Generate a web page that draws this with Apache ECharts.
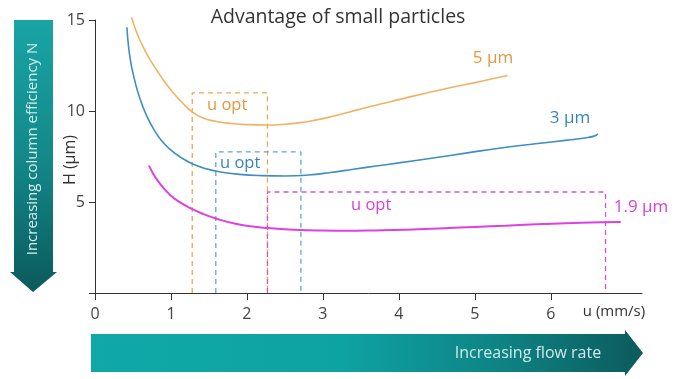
<!DOCTYPE html>
<html>
<head>
<meta charset="utf-8">
<script src="https://cdn.jsdelivr.net/npm/echarts@6/dist/echarts.min.js"></script>
<style>html,body{margin:0;padding:0;background:#fff}#c{width:679px;height:379px}</style>
</head>
<body>
<div id="c"></div>
<script>
const xTicks = [0, 1, 2, 3, 4, 5, 6];
const seriesNames = ['5 µm', '3 µm', '1.9 µm'];
const h5 = [[0.48,15.15],[0.55,14.3],[0.63,13.55],[0.72,12.85],[0.82,12.2],[0.92,11.58],[1.03,11.0],[1.15,10.45],[1.28,9.95],[1.42,9.62],[1.6,9.42],[1.8,9.31],[2.0,9.25],[2.27,9.23],[2.5,9.27],[2.7,9.36],[2.9,9.5],[3.1,9.68],[3.35,9.95],[3.6,10.22],[3.9,10.52],[4.2,10.83],[4.45,11.07],[4.7,11.3],[5.0,11.56],[5.2,11.74],[5.43,11.95]];
const h3 = [[0.42,14.6],[0.44,13.6],[0.47,12.7],[0.51,11.9],[0.56,11.1],[0.62,10.35],[0.69,9.65],[0.78,8.95],[0.88,8.35],[1.0,7.85],[1.13,7.45],[1.28,7.1],[1.45,6.84],[1.65,6.65],[1.9,6.52],[2.2,6.45],[2.5,6.43],[2.8,6.48],[3.1,6.62],[3.4,6.8],[3.7,6.98],[4.0,7.15],[4.45,7.42],[4.9,7.7],[5.34,7.97],[5.8,8.2],[6.22,8.4],[6.45,8.52],[6.57,8.62],[6.62,8.74]];
const h19 = [[0.71,7.0],[0.76,6.6],[0.82,6.2],[0.9,5.78],[1.0,5.35],[1.12,4.98],[1.25,4.67],[1.4,4.38],[1.6,4.08],[1.85,3.8],[2.1,3.64],[2.4,3.53],[2.7,3.46],[3.0,3.43],[3.3,3.42],[3.7,3.44],[4.1,3.48],[4.6,3.56],[5.0,3.63],[5.4,3.7],[5.9,3.79],[6.4,3.86],[6.92,3.9]];
// u opt boxes: [left, right, top]
const box5 = [1.28, 2.27, 11.0];
const box3 = [1.59, 2.71, 7.75];
const box19 = [2.27, 6.72, 5.55];

const cOr = '#f2b263', cBl = '#3f8dc2', cPk = '#e040e0';
const tOr = '#e8963e', tBl = '#3585ba', tPk = '#d83ed8';
const FF = '"Open Sans", "DejaVu Sans", sans-serif';

function boxData(b) { return [[b[0], 0], [b[0], b[2]], [b[1], b[2]], [b[1], 0]]; }
function boxSeries(b, color) {
  return { type: 'line', data: boxData(b), symbol: 'none', silent: true, clip: false,
    lineStyle: { color: color, width: 1.3, type: [5, 4] }, z: 1 };
}
function curve(name, d, color, w) {
  return { name: name, type: 'line', data: d, symbol: 'none', smooth: 0.5, clip: false,
    lineStyle: { color: color, width: w }, z: 3 };
}

const chart = echarts.init(document.getElementById('c'), null, { renderer: 'canvas' });
chart.setOption({
  animation: false,
  backgroundColor: '#fff',
  grid: { left: 95, top: 20, right: 37, bottom: 86, containLabel: false },
  xAxis: {
    type: 'value', min: 0, max: 7.2,
    axisLine: { lineStyle: { color: '#333', width: 1 } },
    axisTick: { show: true, length: 7, customValues: xTicks, lineStyle: { color: '#333' } },
    axisLabel: { customValues: xTicks, color: '#444', fontSize: 16, fontFamily: FF, margin: 13 },
    splitLine: { show: false }
  },
  yAxis: {
    type: 'value', min: 0, max: 15, interval: 5,
    axisLine: { show: true, lineStyle: { color: '#333', width: 1 } },
    axisTick: { show: true, length: 6, lineStyle: { color: '#333' } },
    axisLabel: { color: '#444', fontSize: 16, fontFamily: FF, margin: 10, formatter: v => v === 0 ? '' : v },
    splitLine: { show: false }
  },
  series: [
    boxSeries(box5, '#eaa656'),
    boxSeries(box3, '#5ea8d8'),
    boxSeries(box19, '#d653d6'),
    curve(seriesNames[0], h5, cOr, 1.6),
    curve(seriesNames[1], h3, cBl, 1.6),
    curve(seriesNames[2], h19, cPk, 2)
  ],
  graphic: [
    { type: 'polygon', shape: { points: [[14,20],[53,20],[53,272],[57,272],[33,292],[10,272],[14,272]] },
      style: { fill: new echarts.graphic.LinearGradient(0,0,0,1,[{offset:0,color:'#19a4a4'},{offset:0.5,color:'#13898a'},{offset:1,color:'#0b5a5c'}]) } },
    { type: 'text', x: 33, y: 149, rotation: Math.PI/2,
      style: { text: 'Increasing column efficiency N', fill: '#d4efee', font: '15px ' + FF, align: 'center', verticalAlign: 'middle' } },
    { type: 'polygon', shape: { points: [[91,334],[625,334],[625,330],[643,353],[625,376],[625,372],[91,372]] },
      style: { fill: new echarts.graphic.LinearGradient(0,0,1,0,[{offset:0,color:'#10a8a8'},{offset:0.45,color:'#0ea3a3'},{offset:0.75,color:'#0e8283'},{offset:1,color:'#0c5a5c'}]) } },
    { type: 'text', x: 528, y: 353,
      style: { text: 'Increasing flow rate', fill: '#cdebea', font: '16px ' + FF, align: 'center', verticalAlign: 'middle' } },
    { type: 'text', x: 338, y: 17,
      style: { text: 'Advantage of small particles', fill: '#333', font: '19.5px ' + FF, align: 'center', verticalAlign: 'middle' } },
    { type: 'text', x: 70, y: 160, rotation: Math.PI/2,
      style: { text: 'H (µm)', fill: '#333', font: '16px ' + FF, align: 'center', verticalAlign: 'middle' } },
    { type: 'text', x: 614, y: 312,
      style: { text: 'u (mm/s)', fill: '#333', font: '15px ' + FF, align: 'center', verticalAlign: 'middle' } },
    { type: 'text', x: 493, y: 58,
      style: { text: '5 µm', fill: tOr, font: '17px ' + FF, align: 'center', verticalAlign: 'middle' } },
    { type: 'text', x: 570, y: 118,
      style: { text: '3 µm', fill: tBl, font: '17px ' + FF, align: 'center', verticalAlign: 'middle' } },
    { type: 'text', x: 641, y: 207,
      style: { text: '1.9 µm', fill: tPk, font: '17px ' + FF, align: 'center', verticalAlign: 'middle' } },
    { type: 'text', x: 207, y: 105,
      style: { text: 'u opt', fill: tOr, font: '16.5px ' + FF, align: 'left', verticalAlign: 'middle' } },
    { type: 'text', x: 220, y: 163,
      style: { text: 'u opt', fill: tBl, font: '16.5px ' + FF, align: 'left', verticalAlign: 'middle' } },
    { type: 'text', x: 351, y: 205,
      style: { text: 'u opt', fill: tPk, font: '16.5px ' + FF, align: 'left', verticalAlign: 'middle' } }
  ]
});
</script>
</body>
</html>
